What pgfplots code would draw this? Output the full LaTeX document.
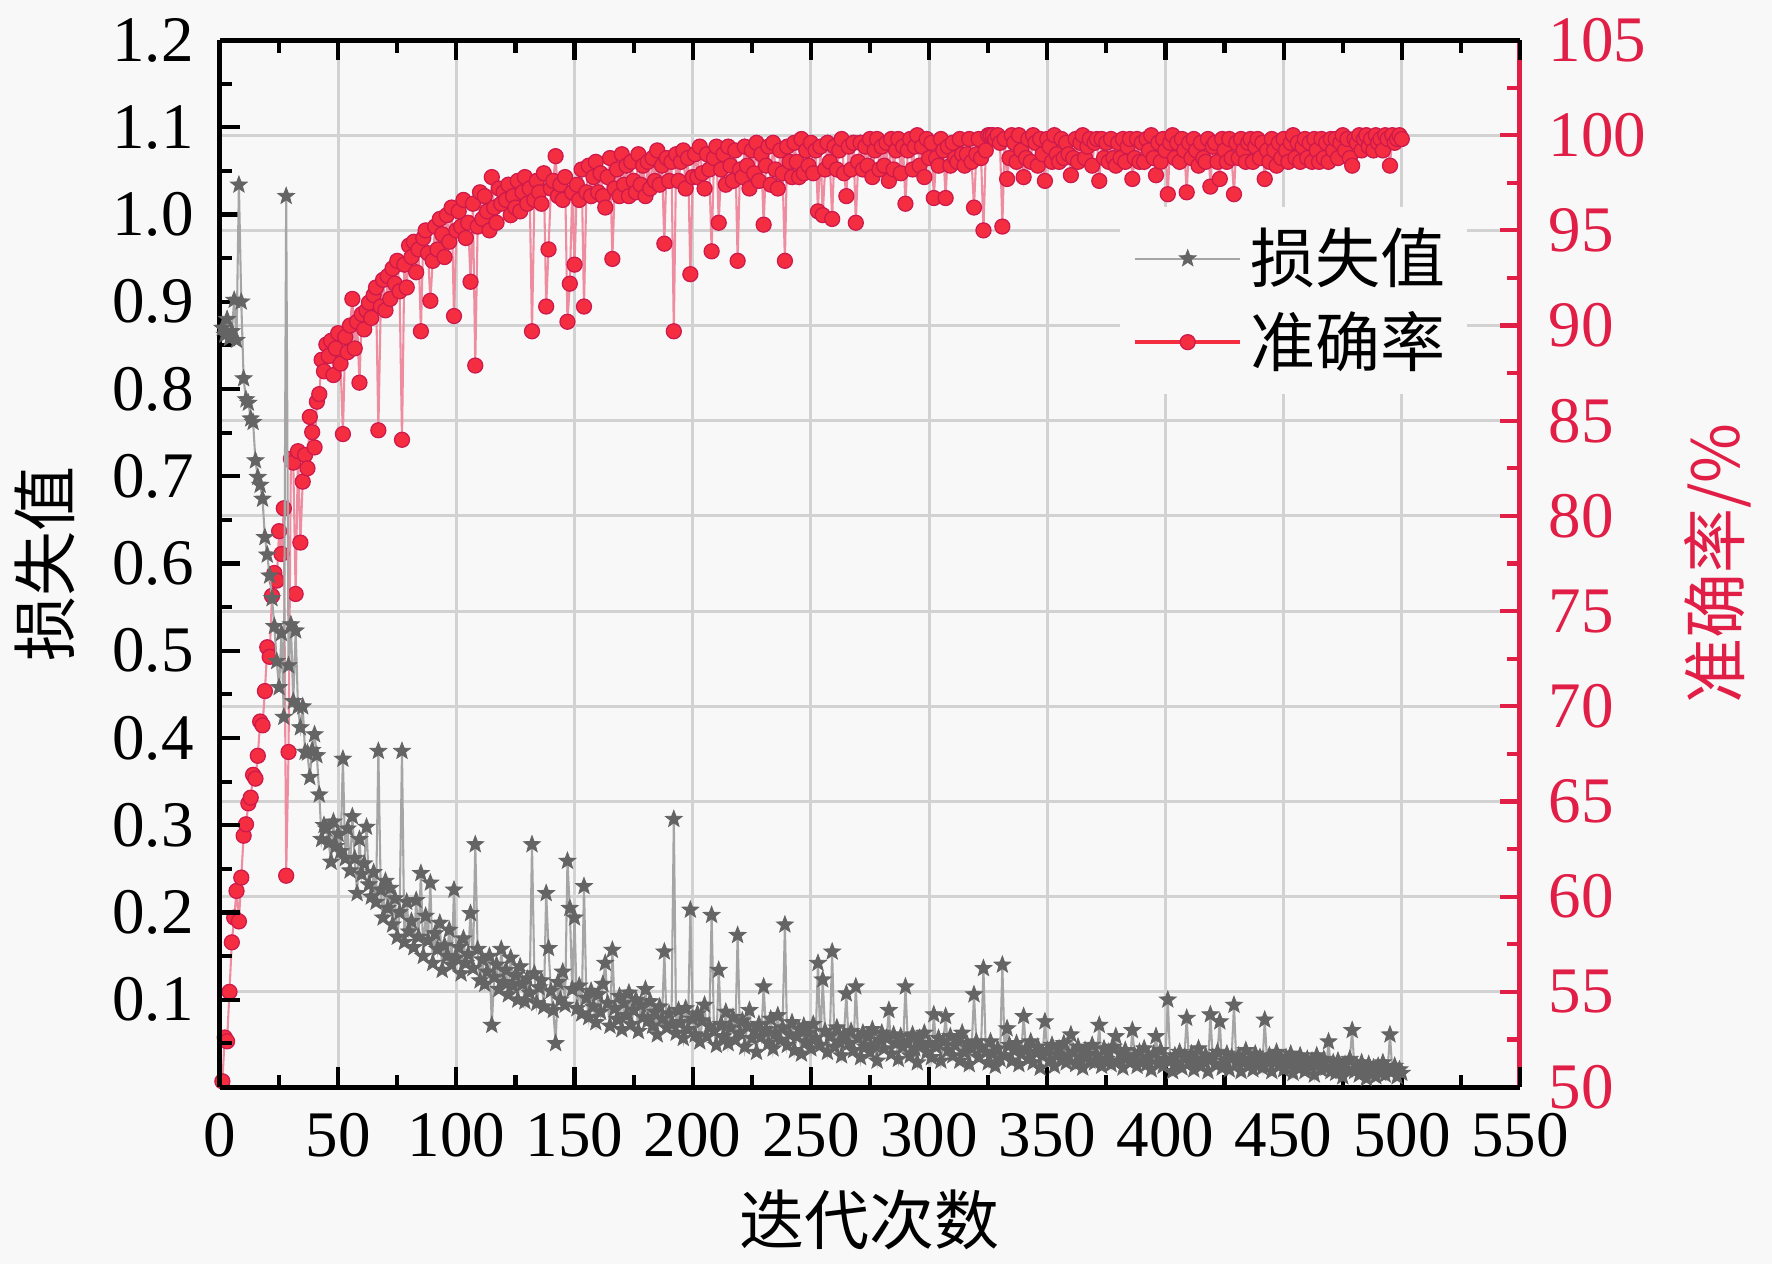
\documentclass[border=0pt]{standalone}
\usepackage{fontspec}
\setmainfont{Liberation Serif}
\newfontfamily\cjk{Noto Sans CJK SC}
\usepackage{pgfplots}
\pgfplotsset{compat=1.18}
\definecolor{bg}{RGB}{248,248,248}
\definecolor{accred}{RGB}{225,30,70}
\definecolor{accfill}{RGB}{245,45,65}
\definecolor{accedge}{RGB}{205,25,75}
\definecolor{accline}{RGB}{238,140,160}
\definecolor{lossmark}{RGB}{100,100,100}
\definecolor{lossline}{RGB}{165,165,165}
\definecolor{gridc}{RGB}{210,210,210}
\pgfdeclareplotmark{fstar}{%
  \pgfpathmoveto{\pgfpointpolar{90}{\pgfplotmarksize}}%
  \pgfpathlineto{\pgfpointpolar{126}{0.42\pgfplotmarksize}}%
  \pgfpathlineto{\pgfpointpolar{162}{\pgfplotmarksize}}%
  \pgfpathlineto{\pgfpointpolar{198}{0.42\pgfplotmarksize}}%
  \pgfpathlineto{\pgfpointpolar{234}{\pgfplotmarksize}}%
  \pgfpathlineto{\pgfpointpolar{270}{0.42\pgfplotmarksize}}%
  \pgfpathlineto{\pgfpointpolar{306}{\pgfplotmarksize}}%
  \pgfpathlineto{\pgfpointpolar{342}{0.42\pgfplotmarksize}}%
  \pgfpathlineto{\pgfpointpolar{18}{\pgfplotmarksize}}%
  \pgfpathlineto{\pgfpointpolar{54}{0.42\pgfplotmarksize}}%
  \pgfpathclose
  \pgfusepathqfillstroke
}
\pgfplotsset{common/.style={scale only axis, width=312pt, height=251.28pt,
  at={(0,0)}, anchor=south west, xmin=0, xmax=550,
  tick align=inside, major tick length=4.8pt, minor tick length=3pt,
  /pgf/number format/assume math mode=true,
  tick label style={font=\fontsize{15.6}{18}\selectfont, inner sep=1pt}}}
\begin{document}
\begin{tikzpicture}
\useasboundingbox (-52.8pt,-42.48pt) rectangle (372.48pt,260.88pt);
\fill[bg] (-52.8pt,-42.48pt) rectangle (372.48pt,260.88pt);
% grid
\begin{axis}[common, ymin=50, ymax=105,
  axis line style={draw=none}, xmajorticks=false, ymajorticks=false,
  xtick={50,100,...,500}, ytick={55,60,...,100},
  xmajorgrids, ymajorgrids, grid style={gridc, line width=0.7pt}]
\end{axis}
% accuracy
\begin{axis}[common, axis x line=none, axis y line*=right,
  ymin=50, ymax=105, ytick={50,55,...,105}, minor ytick={52.5,57.5,...,102.5},
  y axis line style={accred, line width=1.2pt},
  tick style={accred, line width=1pt},
  yticklabel style={text=accred, xshift=5.7pt},
  ylabel={\cjk 准确率/\%},
  ylabel style={at={(axis description cs:1.152,0.5)}, anchor=center, text=accred, font=\fontsize{15.6}{18}\selectfont}]
\addplot[color=accline, line width=0.5pt, mark=*, mark size=1.8pt, mark options={fill=accfill, draw=accedge, line width=0.3pt}] coordinates {
(1,50.3)(2,52.6)(3,52.4)(4,55.0)(5,57.6)(6,58.9)(7,60.3)(8,58.7)(9,61.0)(10,63.2)
(11,63.8)(12,64.9)(13,65.2)(14,66.4)(15,66.2)(16,67.4)(17,69.2)(18,69.0)(19,70.8)(20,73.1)
(21,72.6)(22,75.8)(23,77.0)(24,76.6)(25,79.2)(26,78.0)(27,80.4)(28,61.1)(29,67.6)(30,83.0)
(31,82.8)(32,75.9)(33,83.4)(34,78.6)(35,81.8)(36,83.2)(37,82.5)(38,85.2)(39,84.4)(40,83.6)
(41,86.0)(42,86.4)(43,88.2)(44,87.6)(45,89.0)(46,88.4)(47,89.2)(48,87.4)(49,88.8)(50,89.6)
(51,88.0)(52,84.3)(53,89.4)(54,88.6)(55,90.0)(56,91.4)(57,88.8)(58,90.2)(59,87.0)(60,90.6)
(61,89.8)(62,90.8)(63,91.2)(64,90.4)(65,91.6)(66,92.0)(67,84.5)(68,91.0)(69,92.4)(70,90.8)
(71,92.6)(72,91.4)(73,93.0)(74,92.2)(75,93.4)(76,91.8)(77,84.0)(78,93.2)(79,92.0)(80,94.2)
(81,93.6)(82,94.4)(83,92.8)(84,94.0)(85,89.7)(86,94.6)(87,95.0)(88,93.8)(89,91.3)(90,93.4)
(91,95.2)(92,94.0)(93,95.6)(94,94.8)(95,93.6)(96,95.8)(97,94.4)(98,96.2)(99,90.5)(100,95.0)
(101,96.0)(102,95.2)(103,96.6)(104,94.6)(105,95.4)(106,92.3)(107,96.4)(108,87.9)(109,95.2)(110,97.0)
(111,95.6)(112,96.8)(113,96.0)(114,95.0)(115,97.8)(116,96.2)(117,95.4)(118,97.2)(119,96.4)(120,97.0)
(121,96.6)(122,97.4)(123,95.8)(124,96.8)(125,96.2)(126,97.6)(127,96.0)(128,97.0)(129,97.8)(130,96.4)
(131,97.2)(132,89.7)(133,96.6)(134,97.6)(135,97.0)(136,96.4)(137,98.0)(138,91.0)(139,94.0)(140,97.2)
(141,97.6)(142,98.9)(143,96.8)(144,97.4)(145,96.6)(146,97.8)(147,90.2)(148,92.2)(149,97.0)(150,93.2)
(151,97.4)(152,96.6)(153,98.2)(154,91.0)(155,97.0)(156,98.4)(157,96.8)(158,97.8)(159,98.6)(160,97.0)
(161,98.0)(162,96.8)(163,96.2)(164,97.8)(165,98.8)(166,93.5)(167,97.2)(168,98.2)(169,96.8)(170,99.0)
(171,97.4)(172,98.4)(173,96.8)(174,98.6)(175,97.6)(176,97.0)(177,99.0)(178,97.4)(179,98.4)(180,96.8)
(181,98.6)(182,97.2)(183,98.8)(184,97.6)(185,99.2)(186,97.4)(187,98.4)(188,94.3)(189,98.8)(190,97.6)
(191,98.6)(192,89.7)(193,99.0)(194,97.6)(195,98.6)(196,99.2)(197,97.2)(198,98.8)(199,92.7)(200,97.8)
(201,99.0)(202,97.8)(203,99.4)(204,98.0)(205,97.2)(206,99.0)(207,98.2)(208,93.9)(209,98.8)(210,99.4)
(211,95.4)(212,98.2)(213,99.0)(214,97.4)(215,99.4)(216,98.4)(217,97.6)(218,99.2)(219,93.4)(220,98.2)
(221,97.8)(222,99.4)(223,98.4)(224,97.2)(225,99.2)(226,98.0)(227,99.6)(228,97.6)(229,99.0)(230,95.3)
(231,98.4)(232,99.4)(233,97.4)(234,99.6)(235,98.2)(236,97.2)(237,99.2)(238,98.0)(239,93.4)(240,99.4)
(241,98.6)(242,97.8)(243,99.6)(244,98.6)(245,97.8)(246,99.8)(247,98.0)(248,99.2)(249,98.4)(250,99.6)
(251,98.0)(252,99.2)(253,96.0)(254,99.4)(255,95.8)(256,98.2)(257,99.6)(258,98.6)(259,95.6)(260,99.4)
(261,98.2)(262,99.2)(263,99.8)(264,98.0)(265,96.8)(266,99.4)(267,98.2)(268,99.6)(269,95.4)(270,98.6)
(271,99.6)(272,98.2)(273,99.4)(274,98.4)(275,99.8)(276,97.8)(277,99.2)(278,99.8)(279,98.2)(280,99.4)
(281,98.4)(282,99.6)(283,97.6)(284,99.8)(285,98.2)(286,99.2)(287,99.8)(288,98.0)(289,99.4)(290,96.4)
(291,99.2)(292,99.8)(293,98.2)(294,99.4)(295,100.0)(296,98.4)(297,99.4)(298,97.8)(299,99.8)(300,98.8)
(301,99.6)(302,96.7)(303,98.8)(304,98.4)(305,99.8)(306,99.2)(307,96.7)(308,99.4)(309,98.4)(310,99.6)
(311,98.8)(312,98.6)(313,99.8)(314,99.0)(315,98.4)(316,99.0)(317,99.8)(318,98.6)(319,96.2)(320,99.0)
(321,99.8)(322,98.8)(323,95.0)(324,99.2)(325,100.0)(326,100.0)(327,100.0)(328,99.8)(329,100.0)(330,99.6)
(331,95.2)(332,99.8)(333,97.7)(334,98.8)(335,100.0)(336,99.6)(337,98.6)(338,100.0)(339,99.2)(340,97.8)
(341,98.8)(342,99.8)(343,98.6)(344,100.0)(345,99.6)(346,98.4)(347,99.8)(348,99.0)(349,97.6)(350,99.8)
(351,99.4)(352,98.6)(353,100.0)(354,99.0)(355,98.6)(356,99.8)(357,98.8)(358,99.6)(359,99.0)(360,97.9)
(361,98.8)(362,99.8)(363,98.6)(364,99.6)(365,100.0)(366,98.8)(367,99.4)(368,99.8)(369,98.4)(370,99.6)
(371,99.8)(372,97.6)(373,99.8)(374,98.8)(375,99.6)(376,98.6)(377,99.8)(378,98.8)(379,98.4)(380,99.6)
(381,98.8)(382,99.8)(383,98.6)(384,99.4)(385,99.8)(386,97.7)(387,98.8)(388,99.8)(389,98.6)(390,99.6)
(391,98.6)(392,99.8)(393,99.2)(394,100.0)(395,98.8)(396,97.9)(397,99.6)(398,98.6)(399,99.8)(400,99.2)
(401,96.9)(402,99.6)(403,100.0)(404,98.8)(405,99.6)(406,98.6)(407,99.8)(408,99.2)(409,97.0)(410,99.6)
(411,98.8)(412,99.8)(413,99.2)(414,98.4)(415,99.6)(416,98.8)(417,98.6)(418,99.8)(419,97.3)(420,99.4)
(421,99.6)(422,98.6)(423,97.7)(424,99.8)(425,99.2)(426,98.6)(427,99.8)(428,98.8)(429,96.9)(430,99.6)
(431,98.8)(432,99.8)(433,99.2)(434,98.6)(435,99.6)(436,99.8)(437,98.6)(438,99.4)(439,99.8)(440,98.8)
(441,99.6)(442,97.7)(443,99.2)(444,98.6)(445,99.8)(446,99.2)(447,98.4)(448,99.6)(449,98.8)(450,99.8)
(451,99.2)(452,98.6)(453,99.6)(454,100.0)(455,98.8)(456,99.6)(457,98.6)(458,99.4)(459,99.8)(460,98.8)
(461,99.6)(462,98.6)(463,99.8)(464,99.2)(465,98.6)(466,99.8)(467,98.8)(468,99.6)(469,98.6)(470,99.8)
(471,99.2)(472,99.8)(473,98.8)(474,99.6)(475,100.0)(476,99.2)(477,99.8)(478,98.8)(479,98.4)(480,99.8)
(481,99.6)(482,100.0)(483,99.2)(484,99.8)(485,100.0)(486,99.4)(487,99.8)(488,99.2)(489,100.0)(490,99.6)
(491,99.8)(492,99.2)(493,100.0)(494,99.8)(495,98.4)(496,100.0)(497,99.6)(498,99.8)(499,100.0)(500,99.8)
};
\end{axis}
% loss
\begin{axis}[common, axis x line*=box, axis y line*=left,
  ymin=0, ymax=1.2,
  xtick={0,50,...,550}, minor xtick={25,75,...,525},
  xticklabel style={yshift=-5pt},
  ytick={0.1,0.2,0.3,0.4,0.5,0.6,0.7,0.8,0.9,1.0,1.1,1.2},
  minor ytick={0.05,0.15,0.25,0.35,0.45,0.55,0.65,0.75,0.85,0.95,1.05,1.15},
  yticklabel style={xshift=-5.1pt, /pgf/number format/.cd, fixed, fixed zerofill, precision=1},
  axis line style={black, line width=1.2pt},
  tick style={black, line width=1pt},
  xlabel={\cjk 迭代次数}, ylabel={\cjk 损失值},
  xlabel style={at={(axis description cs:0.5,-0.127)}, anchor=center, font=\fontsize{15.6}{18}\selectfont},
  ylabel style={at={(axis description cs:-0.1346,0.5)}, anchor=center, font=\fontsize{15.6}{18}\selectfont},
  legend style={at={(0.692,0.841)}, anchor=north west, draw=none, fill=bg,
    font=\fontsize{15.6}{18}\selectfont\cjk, row sep=1.4pt, inner sep=3pt},
  legend cell align=left,
  legend image code/.code={\draw[mark repeat=2,mark phase=2,#1] plot coordinates {(0pt,0pt) (12.6pt,0pt) (25.2pt,0pt)};}]
\addplot[color=lossline, line width=0.5pt, mark=fstar, mark size=2.1pt, mark options={fill=lossmark, draw=lossmark, line width=0.2pt}] coordinates {
(1,0.870)(2,0.862)(3,0.880)(4,0.858)(5,0.866)(6,0.902)(7,0.856)(8,1.034)(9,0.900)(10,0.812)
(11,0.788)(12,0.784)(13,0.766)(14,0.762)(15,0.718)(16,0.699)(17,0.690)(18,0.674)(19,0.630)(20,0.610)
(21,0.586)(22,0.560)(23,0.528)(24,0.488)(25,0.458)(26,0.520)(27,0.424)(28,1.021)(29,0.483)(30,0.530)
(31,0.442)(32,0.523)(33,0.436)(34,0.412)(35,0.436)(36,0.384)(37,0.383)(38,0.355)(39,0.386)(40,0.404)
(41,0.380)(42,0.335)(43,0.284)(44,0.300)(45,0.296)(46,0.280)(47,0.258)(48,0.304)(49,0.276)(50,0.290)
(51,0.270)(52,0.376)(53,0.262)(54,0.296)(55,0.248)(56,0.310)(57,0.262)(58,0.222)(59,0.284)(60,0.244)
(61,0.256)(62,0.298)(63,0.232)(64,0.218)(65,0.246)(66,0.212)(67,0.385)(68,0.226)(69,0.194)(70,0.236)
(71,0.205)(72,0.228)(73,0.186)(74,0.216)(75,0.172)(76,0.200)(77,0.385)(78,0.166)(79,0.212)(80,0.178)
(81,0.190)(82,0.160)(83,0.214)(84,0.172)(85,0.245)(86,0.150)(87,0.196)(88,0.168)(89,0.234)(90,0.142)
(91,0.176)(92,0.158)(93,0.188)(94,0.134)(95,0.162)(96,0.150)(97,0.180)(98,0.140)(99,0.226)(100,0.148)
(101,0.160)(102,0.130)(103,0.170)(104,0.142)(105,0.152)(106,0.199)(107,0.136)(108,0.278)(109,0.158)(110,0.122)
(111,0.146)(112,0.118)(113,0.132)(114,0.150)(115,0.071)(116,0.126)(117,0.140)(118,0.112)(119,0.158)(120,0.120)
(121,0.134)(122,0.106)(123,0.148)(124,0.116)(125,0.128)(126,0.100)(127,0.138)(128,0.118)(129,0.098)(130,0.124)
(131,0.108)(132,0.278)(133,0.130)(134,0.096)(135,0.114)(136,0.122)(137,0.092)(138,0.222)(139,0.159)(140,0.110)
(141,0.088)(142,0.050)(143,0.120)(144,0.100)(145,0.132)(146,0.094)(147,0.259)(148,0.205)(149,0.112)(150,0.194)
(151,0.090)(152,0.116)(153,0.084)(154,0.230)(155,0.102)(156,0.080)(157,0.110)(158,0.092)(159,0.074)(160,0.106)
(161,0.086)(162,0.118)(163,0.142)(164,0.096)(165,0.070)(166,0.157)(167,0.090)(168,0.078)(169,0.104)(170,0.066)
(171,0.096)(172,0.082)(173,0.108)(174,0.072)(175,0.088)(176,0.100)(177,0.064)(178,0.094)(179,0.080)(180,0.112)
(181,0.076)(182,0.098)(183,0.070)(184,0.086)(185,0.060)(186,0.092)(187,0.078)(188,0.155)(189,0.068)(190,0.084)
(191,0.072)(192,0.307)(193,0.062)(194,0.088)(195,0.074)(196,0.056)(197,0.090)(198,0.066)(199,0.203)(200,0.078)
(201,0.060)(202,0.084)(203,0.052)(204,0.076)(205,0.094)(206,0.058)(207,0.070)(208,0.197)(209,0.064)(210,0.048)
(211,0.134)(212,0.072)(213,0.058)(214,0.086)(215,0.050)(216,0.068)(217,0.080)(218,0.054)(219,0.174)(220,0.062)
(221,0.076)(222,0.046)(223,0.070)(224,0.088)(225,0.056)(226,0.064)(227,0.040)(228,0.072)(229,0.058)(230,0.115)
(231,0.066)(232,0.050)(233,0.078)(234,0.044)(235,0.062)(236,0.082)(237,0.054)(238,0.068)(239,0.186)(240,0.048)
(241,0.060)(242,0.074)(243,0.042)(244,0.058)(245,0.066)(246,0.038)(247,0.070)(248,0.052)(249,0.062)(250,0.044)
(251,0.072)(252,0.056)(253,0.142)(254,0.048)(255,0.123)(256,0.064)(257,0.040)(258,0.058)(259,0.155)(260,0.046)
(261,0.068)(262,0.052)(263,0.036)(264,0.060)(265,0.107)(266,0.050)(267,0.064)(268,0.042)(269,0.115)(270,0.056)
(271,0.034)(272,0.062)(273,0.046)(274,0.058)(275,0.040)(276,0.066)(277,0.048)(278,0.030)(279,0.054)(280,0.062)
(281,0.044)(282,0.056)(283,0.088)(284,0.038)(285,0.060)(286,0.050)(287,0.032)(288,0.058)(289,0.046)(290,0.115)
(291,0.052)(292,0.036)(293,0.060)(294,0.044)(295,0.028)(296,0.056)(297,0.048)(298,0.062)(299,0.040)(300,0.050)
(301,0.034)(302,0.083)(303,0.046)(304,0.056)(305,0.030)(306,0.052)(307,0.081)(308,0.042)(309,0.058)(310,0.036)
(311,0.048)(312,0.054)(313,0.030)(314,0.062)(315,0.040)(316,0.050)(317,0.026)(318,0.044)(319,0.106)(320,0.052)
(321,0.034)(322,0.046)(323,0.136)(324,0.040)(325,0.028)(326,0.052)(327,0.038)(328,0.024)(329,0.044)(330,0.032)
(331,0.140)(332,0.036)(333,0.067)(334,0.048)(335,0.030)(336,0.042)(337,0.050)(338,0.026)(339,0.038)(340,0.081)
(341,0.044)(342,0.032)(343,0.052)(344,0.028)(345,0.040)(346,0.046)(347,0.022)(348,0.036)(349,0.075)(350,0.042)
(351,0.030)(352,0.048)(353,0.024)(354,0.038)(355,0.044)(356,0.032)(357,0.050)(358,0.028)(359,0.036)(360,0.060)
(361,0.040)(362,0.026)(363,0.046)(364,0.034)(365,0.022)(366,0.042)(367,0.038)(368,0.030)(369,0.048)(370,0.028)
(371,0.036)(372,0.071)(373,0.024)(374,0.044)(375,0.032)(376,0.040)(377,0.026)(378,0.046)(379,0.058)(380,0.030)
(381,0.038)(382,0.022)(383,0.042)(384,0.034)(385,0.028)(386,0.065)(387,0.036)(388,0.024)(389,0.040)(390,0.030)
(391,0.044)(392,0.026)(393,0.034)(394,0.020)(395,0.038)(396,0.058)(397,0.028)(398,0.042)(399,0.024)(400,0.032)
(401,0.100)(402,0.030)(403,0.018)(404,0.036)(405,0.026)(406,0.040)(407,0.022)(408,0.034)(409,0.079)(410,0.028)
(411,0.038)(412,0.020)(413,0.032)(414,0.044)(415,0.024)(416,0.030)(417,0.036)(418,0.018)(419,0.083)(420,0.034)
(421,0.026)(422,0.040)(423,0.075)(424,0.022)(425,0.030)(426,0.038)(427,0.020)(428,0.034)(429,0.094)(430,0.028)
(431,0.036)(432,0.018)(433,0.032)(434,0.042)(435,0.024)(436,0.030)(437,0.020)(438,0.038)(439,0.026)(440,0.034)
(441,0.022)(442,0.077)(443,0.030)(444,0.036)(445,0.018)(446,0.028)(447,0.040)(448,0.024)(449,0.032)(450,0.020)
(451,0.034)(452,0.026)(453,0.038)(454,0.016)(455,0.030)(456,0.022)(457,0.036)(458,0.028)(459,0.018)(460,0.032)
(461,0.024)(462,0.030)(463,0.014)(464,0.036)(465,0.026)(466,0.020)(467,0.032)(468,0.022)(469,0.052)(470,0.018)
(471,0.028)(472,0.016)(473,0.030)(474,0.024)(475,0.012)(476,0.026)(477,0.020)(478,0.032)(479,0.065)(480,0.018)
(481,0.024)(482,0.014)(483,0.028)(484,0.020)(485,0.010)(486,0.026)(487,0.018)(488,0.022)(489,0.012)(490,0.024)
(491,0.016)(492,0.028)(493,0.014)(494,0.020)(495,0.060)(496,0.018)(497,0.024)(498,0.012)(499,0.020)(500,0.016)
};
\addlegendentry{损失值}
\addlegendimage{color=accfill, line width=1.1pt, mark=*, mark size=1.8pt, mark options={fill=accfill, draw=accedge, line width=0.3pt}}
\addlegendentry{准确率}
\end{axis}
\end{tikzpicture}
\end{document}
